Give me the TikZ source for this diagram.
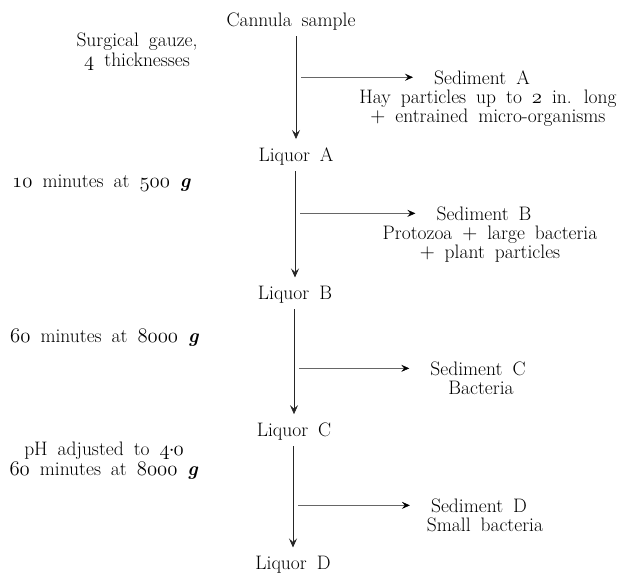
\documentclass[tikz,border=0pt]{standalone}
\usepackage{tikz}
\usetikzlibrary{positioning,arrows.meta}
\newcommand{\osn}[1]{\legacyoldstylenums{#1}}
\newcommand{\gf}{\textbf{\textit{g}}}
\newcommand{\diagfont}{\fontsize{19.5}{19.5}\selectfont\spaceskip=10pt plus 2pt minus 1pt\relax}
\tikzset{
  txt/.style    = {inner sep=0pt, font=\diagfont},
  liquor/.style = {txt, anchor=base},
  cond/.style   = {txt, align=center},
  sed/.style    = {txt, anchor=base},
  note/.style   = {txt, align=center},
  flow/.style   = {-{Stealth[length=9pt,width=8pt,inset=3.5pt]}, line width=0.7pt,
                   draw=black!85, shorten <=6pt, shorten >=8pt},
  branch/.style = {-{Stealth[length=8pt,width=7pt,inset=3pt,color=black]},
                   line width=0.5pt, draw=black!60},
}

\begin{document}
\begin{tikzpicture}[x=1pt, y=-1pt]
  \useasboundingbox (0,0) rectangle (619,573);

  % ---------------- main column ----------------
  \node[liquor] (cannula) at (291,26)  {Cannula sample};
  \node[liquor] (liqA)    at (296,161) {Liquor A};
  \node[liquor] (liqB)    at (295,299) {Liquor B};
  \node[liquor] (liqC)    at (294,436) {Liquor C};
  \node[liquor] (liqD)    at (293,569) {Liquor D};
  \draw[flow] (liqA.north |- cannula.south) -- (liqA.north);
  \draw[flow] (liqB.north |- liqA.south) -- (liqB.north);
  \draw[flow] (liqC.north |- liqB.south) -- (liqC.north);
  \draw[flow] (liqD.north |- liqC.south) -- (liqD.north);

  % ---------------- treatments ----------------
  \node[cond, anchor=north] (gauze) at (137,33)
    {Surgical gauze,\\\osn{4} thicknesses};
  \node[cond, anchor=base west] (spinA) at (12,187)
    {\osn{10} minutes at \osn{500} \gf};
  \node[cond, anchor=base west] (spinB) at (10,342)
    {\osn{60} minutes at \osn{8000} \gf};
  \node[cond, anchor=north] (spinC) at (104,442)
    {pH adjusted to \osn{4}\kern-1pt$\cdot$\kern-1pt\osn{0}\\\osn{60} minutes at \osn{8000} \gf};

  % ---------------- sediments ----------------
  \node[sed] (sedA) at (482,84)  {Sediment A};
  \node[note, below=5pt of sedA, xshift=6pt] (sedAtxt)
    {Hay particles up to \osn{2} in. long\\$+$ entrained micro-organisms};
  \node[sed] (sedB) at (484,220) {Sediment B};
  \node[note, below=5pt of sedB, xshift=6pt] (sedBtxt)
    {Protozoa $+$ large bacteria\\$+$ plant particles};
  \node[sed] (sedC) at (478,375) {Sediment C};
  \node[note, below=5pt of sedC, xshift=3pt] (sedCtxt) {Bacteria};
  \node[sed] (sedD) at (479,512) {Sediment D};
  \node[note, below=5pt of sedD, xshift=6pt] (sedDtxt) {Small bacteria};

  \draw[branch] ([xshift=5pt]liqA.north |- sedA.center) -- ([xshift=-21pt]sedA.west);
  \draw[branch] ([xshift=5pt]liqB.north |- sedB.center) -- ([xshift=-21pt]sedB.west);
  \draw[branch] ([xshift=5pt]liqC.north |- sedC.center) -- ([xshift=-21pt]sedC.west);
  \draw[branch] ([xshift=5pt]liqD.north |- sedD.center) -- ([xshift=-21pt]sedD.west);
\end{tikzpicture}
\end{document}
